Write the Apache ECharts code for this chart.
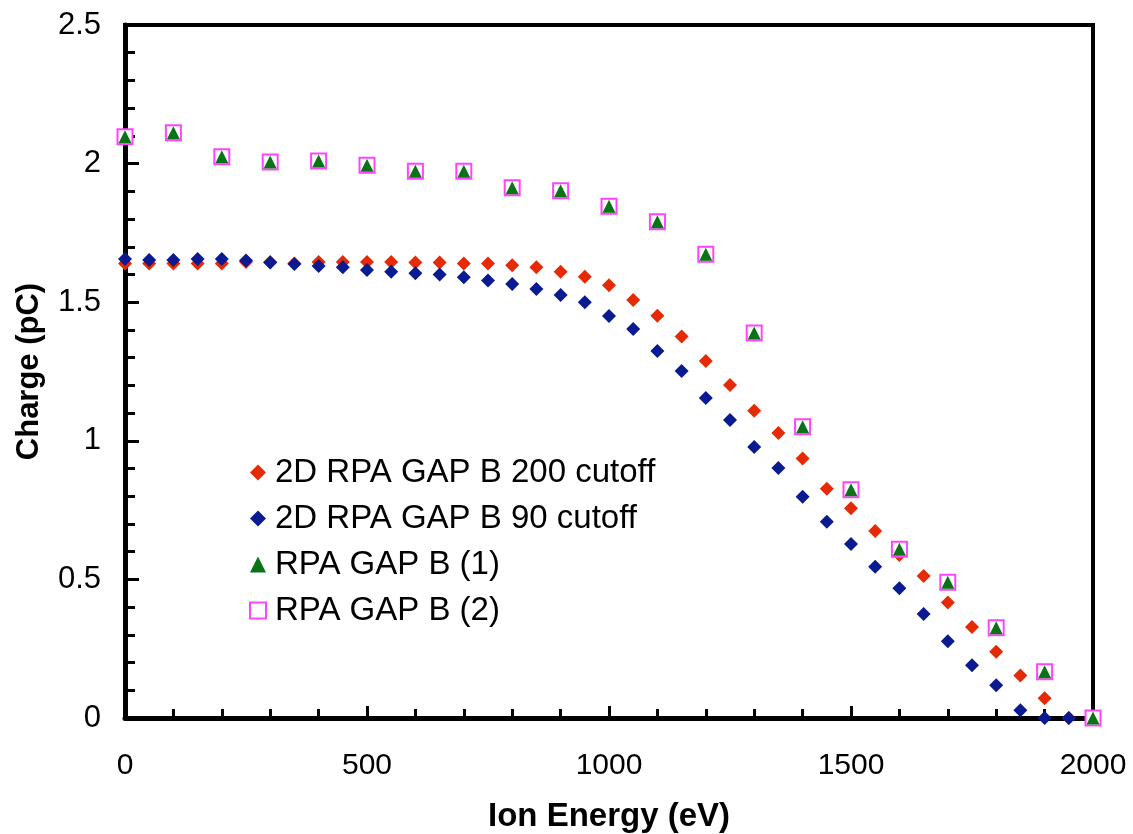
<!DOCTYPE html>
<html>
<head>
<meta charset="utf-8">
<script src="https://cdn.jsdelivr.net/npm/echarts@6/dist/echarts.min.js"></script>
<style>
  html, body { margin: 0; padding: 0; background: #fff; }
  #chart { width: 1133px; height: 834px; }
</style>
</head>
<body>
<div id="chart"></div>
<script>
// ion energy (eV) for the simulated curves, every 50 eV
var simEnergy = [0, 50, 100, 150, 200, 250, 300, 350, 400, 450, 500, 550, 600, 650, 700, 750, 800, 850, 900, 950,
    1000, 1050, 1100, 1150, 1200, 1250, 1300, 1350, 1400, 1450, 1500, 1550, 1600, 1650, 1700, 1750, 1800, 1850, 1900, 1950];
// 2D RPA GAP B 200 cutoff
var cut200 = [1.64, 1.64, 1.64, 1.64, 1.64, 1.645, 1.645, 1.64, 1.645, 1.645, 1.645, 1.645, 1.643, 1.643, 1.64, 1.64, 1.633, 1.626, 1.61, 1.592,
    1.561, 1.508, 1.451, 1.376, 1.288, 1.201, 1.108, 1.028, 0.936, 0.827, 0.757, 0.675, 0.588, 0.512, 0.417, 0.328, 0.239, 0.153, 0.071, 0];
// 2D RPA GAP B 90 cutoff
var cut90 = [1.656, 1.652, 1.652, 1.656, 1.656, 1.65, 1.643, 1.638, 1.631, 1.626, 1.616, 1.61, 1.604, 1.6, 1.59, 1.578, 1.566, 1.548, 1.526, 1.5,
    1.45, 1.403, 1.324, 1.252, 1.154, 1.075, 0.978, 0.902, 0.798, 0.708, 0.628, 0.546, 0.468, 0.375, 0.277, 0.19, 0.118, 0.028, 0, 0];
// measured, every 100 eV
var measEnergy = [0, 100, 200, 300, 400, 500, 600, 700, 800, 900, 1000, 1100, 1200, 1300, 1400, 1500, 1600, 1700, 1800, 1900, 2000];
var rpa1 = [2.097, 2.111, 2.025, 2.006, 2.009, 1.994, 1.972, 1.972, 1.913, 1.902, 1.846, 1.79, 1.673, 1.389, 1.051, 0.823, 0.609, 0.49, 0.326, 0.167, 0];
var rpa2 = [2.097, 2.111, 2.025, 2.006, 2.009, 1.994, 1.972, 1.972, 1.913, 1.902, 1.846, 1.79, 1.673, 1.389, 1.051, 0.823, 0.609, 0.49, 0.326, 0.167, 0];

function pairs(xs, ys) {
    return xs.map(function (x, i) { return [x, ys[i]]; });
}

var chart = echarts.init(document.getElementById('chart'));
var font = 'Liberation Sans, Arial, sans-serif';
var option = {
    animation: false,
    textStyle: { fontFamily: font },
    grid: {
        left: 125, right: 40, top: 25, bottom: 116,
        containLabel: false,
        outerBoundsMode: 'none',
        show: true, borderColor: '#000', borderWidth: 4
    },
    legend: {
        orient: 'vertical',
        left: 244, top: 451,
        itemGap: 13,
        itemWidth: 16, itemHeight: 16,
        textStyle: { fontSize: 33, color: '#000', fontFamily: font, padding: [0, 0, 0, 4] },
        data: ['2D RPA GAP B 200 cutoff', '2D RPA GAP B 90 cutoff', 'RPA GAP B (1)', 'RPA GAP B (2)']
    },
    xAxis: {
        type: 'value',
        min: 0, max: 2000, interval: 500,
        name: 'Ion Energy (eV)',
        nameLocation: 'middle',
        nameGap: 82,
        nameTextStyle: { fontSize: 33, fontWeight: 'bold', color: '#000' },
        axisLine: { lineStyle: { color: '#000', width: 5 } },
        axisTick: { inside: true, length: 12, lineStyle: { color: '#000', width: 3 } },
        minorTick: { show: true, splitNumber: 5, length: 9, lineStyle: { color: '#000', width: 3 } },
        axisLabel: {
            fontSize: 30, color: '#000', margin: 33,
            fontFamily: 'Liberation Sans Narrow, Arial Narrow, Liberation Sans, sans-serif',
            formatter: function (v) { return String(v); }
        },
        splitLine: { show: false }
    },
    yAxis: {
        type: 'value',
        min: 0, max: 2.5, interval: 0.5,
        name: 'Charge (pC)',
        nameLocation: 'middle',
        nameGap: 80,
        nameTextStyle: { fontSize: 31, fontWeight: 'bold', color: '#000' },
        axisLine: { lineStyle: { color: '#000', width: 5 } },
        axisTick: { inside: true, length: 14, lineStyle: { color: '#000', width: 3 } },
        minorTick: { show: true, splitNumber: 5, length: 10, lineStyle: { color: '#000', width: 3 } },
        axisLabel: { fontSize: 31, color: '#000', margin: 24 },
        splitLine: { show: false }
    },
    series: [
        {
            name: '2D RPA GAP B 200 cutoff',
            type: 'scatter',
            symbol: 'diamond',
            symbolSize: 14,
            z: 2,
            itemStyle: { color: '#e62a06', opacity: 1 },
            data: pairs(simEnergy, cut200)
        },
        {
            name: '2D RPA GAP B 90 cutoff',
            type: 'scatter',
            symbol: 'diamond',
            symbolSize: 14,
            z: 3,
            itemStyle: { color: '#0a1a90', opacity: 1 },
            data: pairs(simEnergy, cut90)
        },
        {
            name: 'RPA GAP B (1)',
            type: 'scatter',
            symbol: 'triangle',
            symbolSize: 13,
            z: 5,
            itemStyle: { color: '#0a7318', opacity: 1 },
            data: pairs(measEnergy, rpa1)
        },
        {
            name: 'RPA GAP B (2)',
            type: 'scatter',
            symbol: 'rect',
            symbolSize: 15,
            z: 4,
            itemStyle: { color: '#fff', borderColor: '#ff44ff', borderWidth: 2, opacity: 1 },
            data: pairs(measEnergy, rpa2)
        }
    ]
};
chart.setOption(option);
</script>
</body>
</html>
